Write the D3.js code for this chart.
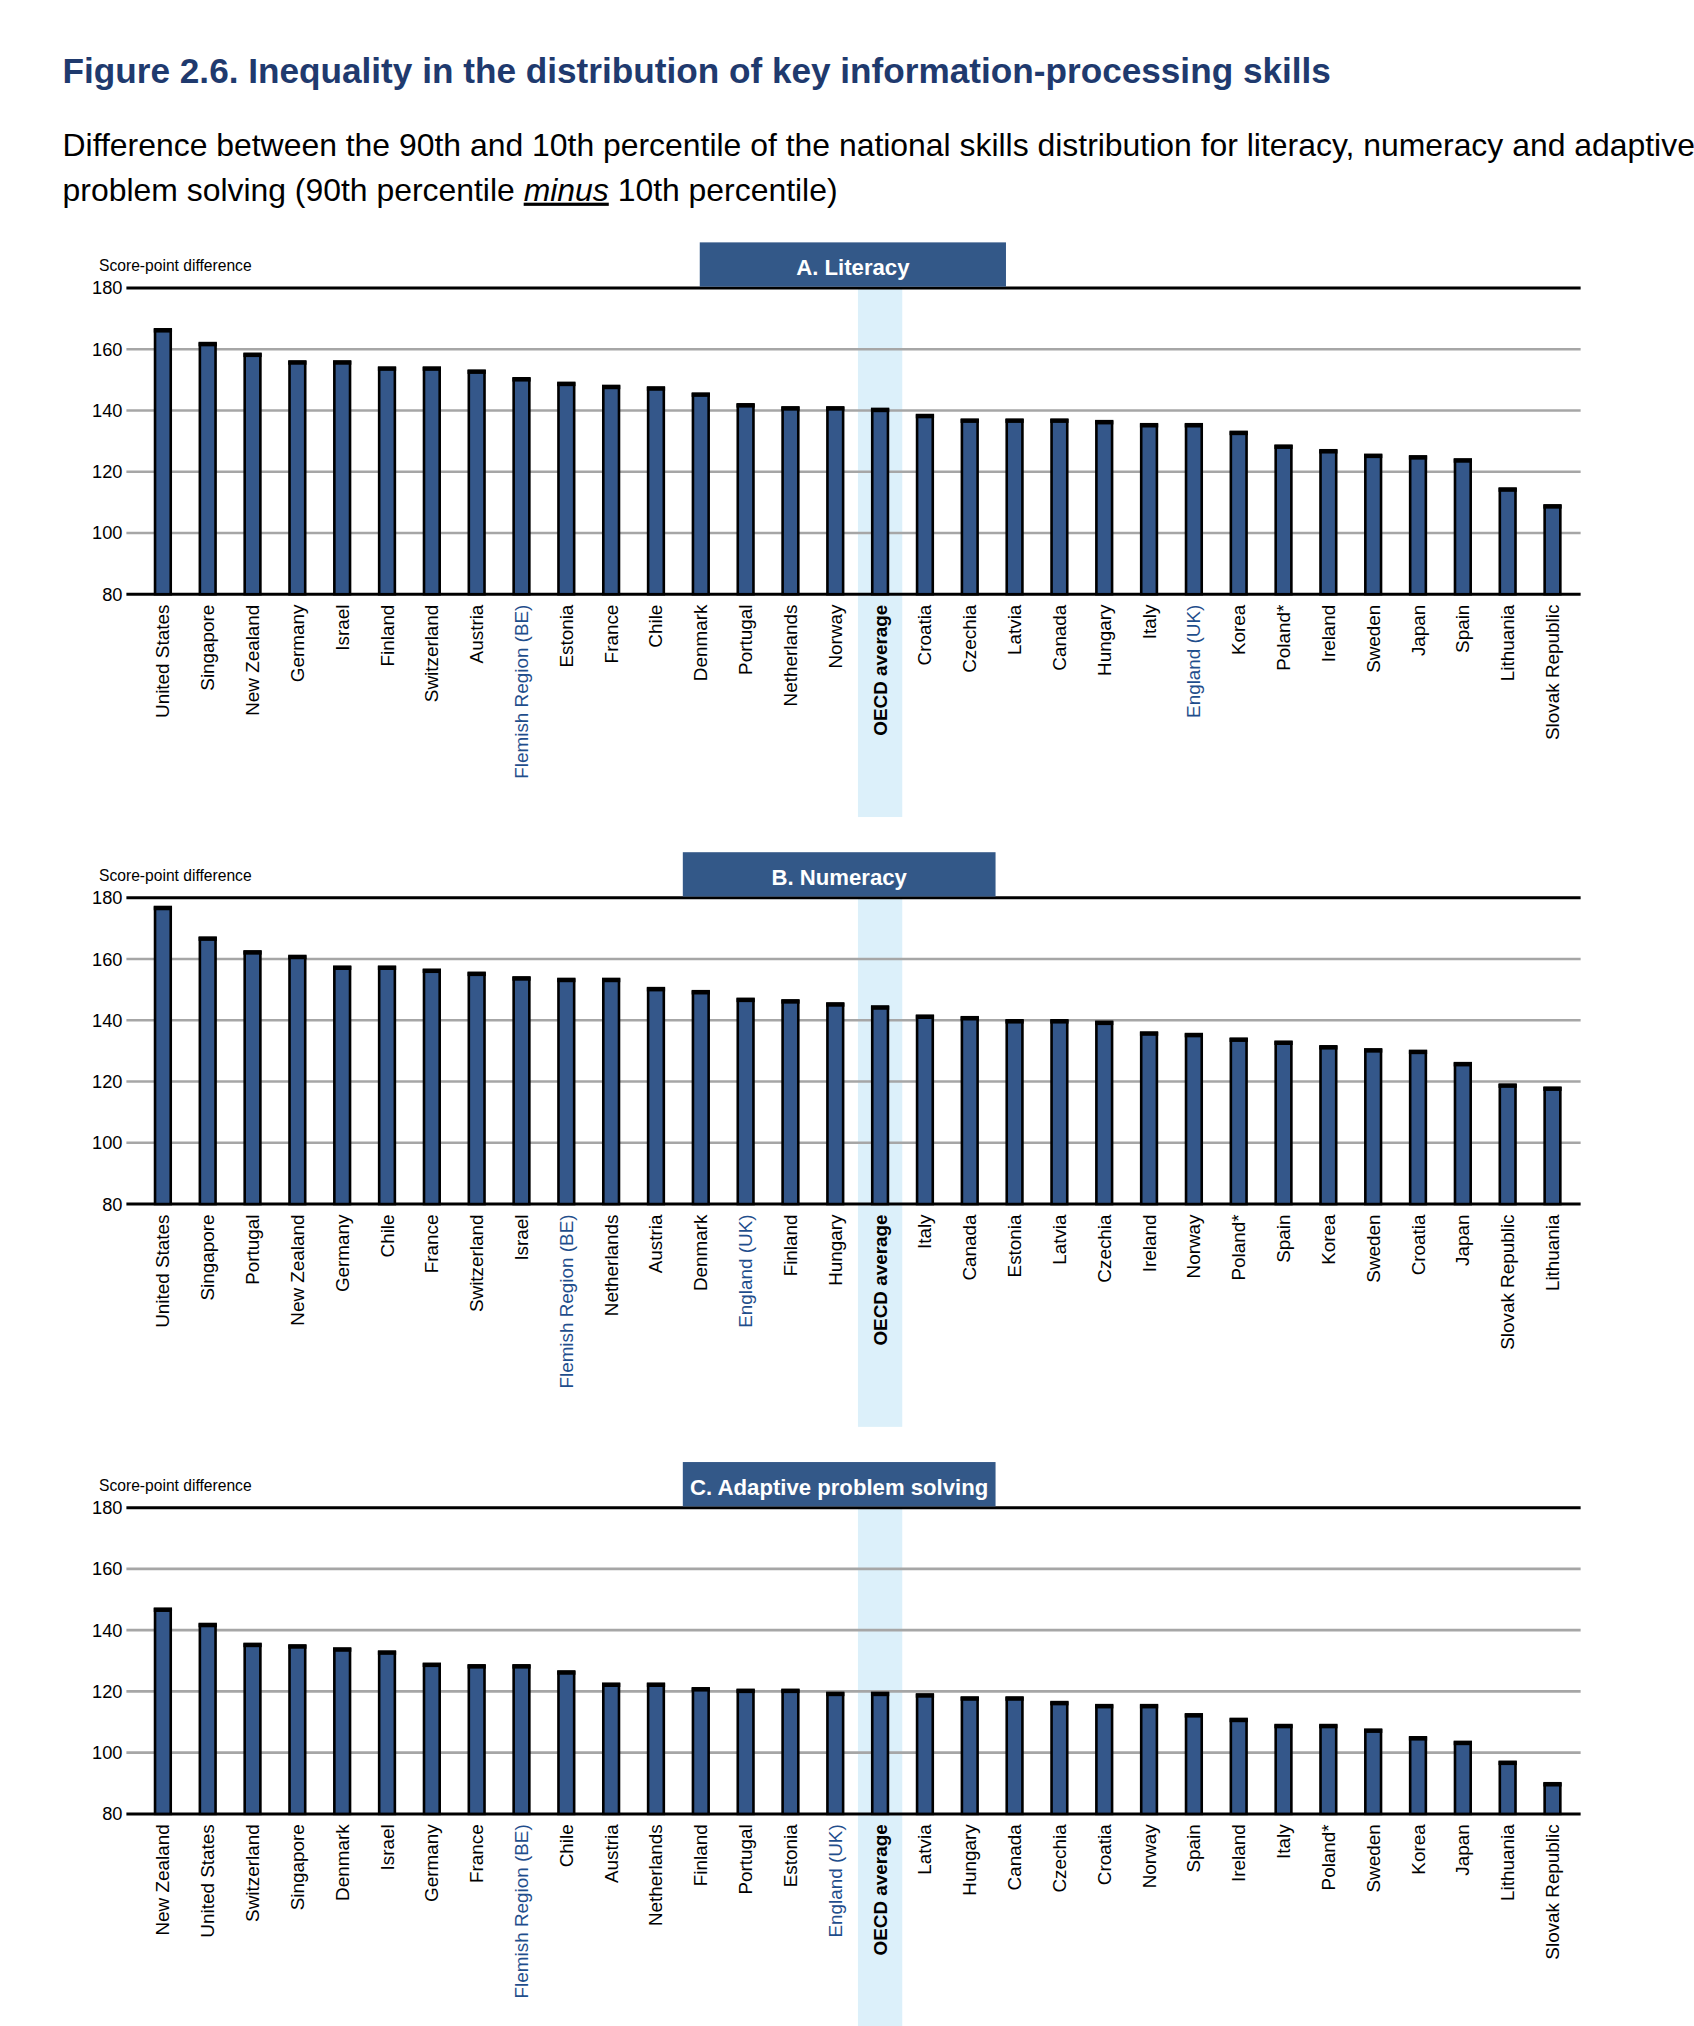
<!DOCTYPE html>
<html><head><meta charset="utf-8">
<script src="https://cdn.jsdelivr.net/npm/d3@7"></script>
<style>body{margin:0;background:#fff}svg{display:block}
text{font-family:"Liberation Sans Narrow","Arial Narrow","Liberation Sans",Arial,sans-serif}</style>
</head><body><svg id="c" width="1694" height="2026"></svg>
<script>
const catsA=["United States","Singapore","New Zealand","Germany","Israel","Finland","Switzerland","Austria","Flemish Region (BE)","Estonia","France","Chile","Denmark","Portugal","Netherlands","Norway","OECD average","Croatia","Czechia","Latvia","Canada","Hungary","Italy","England (UK)","Korea","Poland*","Ireland","Sweden","Japan","Spain","Lithuania","Slovak Republic"];
const valsA=[166.5,162,158.5,156,156,154,154,153,150.5,149,148,147.5,145.5,142,141,141,140.5,138.5,137,137,137,136.5,135.5,135.5,133,128.5,127,125.5,125,124,114.5,109];
const catsB=["United States","Singapore","Portugal","New Zealand","Germany","Chile","France","Switzerland","Israel","Flemish Region (BE)","Netherlands","Austria","Denmark","England (UK)","Finland","Hungary","OECD average","Italy","Canada","Estonia","Latvia","Czechia","Ireland","Norway","Poland*","Spain","Korea","Sweden","Croatia","Japan","Slovak Republic","Lithuania"];
const valsB=[177,167,162.5,161,157.5,157.5,156.5,155.5,154,153.5,153.5,150.5,149.5,147,146.5,145.5,144.5,141.5,141,140,140,139.5,136,135.5,134,133,131.5,130.5,130,126,119,118];
const catsC=["New Zealand","United States","Switzerland","Singapore","Denmark","Israel","Germany","France","Flemish Region (BE)","Chile","Austria","Netherlands","Finland","Portugal","Estonia","England (UK)","OECD average","Latvia","Hungary","Canada","Czechia","Croatia","Norway","Spain","Ireland","Italy","Poland*","Sweden","Korea","Japan","Lithuania","Slovak Republic"];
const valsC=[147,142,135.5,135,134,133,129,128.5,128.5,126.5,122.5,122.5,121,120.5,120.5,119.5,119.5,119,118,118,116.5,115.5,115.5,112.5,111,109,109,107.5,105,103.5,97,90];
const yTicks=[80,100,120,140,160,180];
const panels=[
 {title:"A. Literacy",cats:catsA,vals:valsA,top:221,hx:[537,772],hlEnd:627},
 {title:"B. Numeracy",cats:catsB,vals:valsB,top:689,hx:[524,764],hlEnd:1095},
 {title:"C. Adaptive problem solving",cats:catsC,vals:valsC,top:1157,hx:[524,764],hlEnd:1562}
];
const S=1694/1300;
const svg=d3.select("#c");
const g=svg.append("g").attr("transform",`scale(${S})`);
g.append("text").attr("x",48).attr("y",64).attr("font-size",27).attr("font-weight","bold").attr("fill","#1f3a6e")
 .text("Figure 2.6. Inequality in the distribution of key information-processing skills");
g.append("text").attr("x",48).attr("y",120).attr("font-size",24.5).attr("fill","#000")
 .text("Difference between the 90th and 10th percentile of the national skills distribution for literacy, numeracy and adaptive");
const st=g.append("text").attr("x",48).attr("y",154).attr("font-size",24.5).attr("fill","#000");
st.append("tspan").text("problem solving (90th percentile ");
st.append("tspan").attr("font-style","italic").attr("text-decoration","underline").text("minus");
st.append("tspan").text(" 10th percentile)");
const blue="#1f4e8c";
panels.forEach(p=>{
 const y=d3.scaleLinear().domain([80,180]).range([p.top+235,p.top]);
 const x=d3.scaleBand().domain(p.cats).range([107.8,1208.6]).paddingInner(0.65).paddingOuter(0.325);
 const pg=g.append("g");
 const oi=p.cats.indexOf("OECD average");
 const cx=x(p.cats[oi])+x.bandwidth()/2;
 pg.append("rect").attr("x",cx-17).attr("width",34).attr("y",p.top).attr("height",p.hlEnd-p.top).attr("fill","#dcf0fa");
 yTicks.forEach(t=>{
  pg.append("line").attr("x1",97).attr("x2",1213).attr("y1",y(t)).attr("y2",y(t))
   .attr("stroke",(t==80||t==180)?"#000":"#a6a6a6").attr("stroke-width",(t==80||t==180)?2.3:2);
 });
 const ax=pg.append("g").attr("transform","translate(97,0)").call(d3.axisLeft(y).tickValues(yTicks).tickSize(0).tickPadding(3));
 ax.select(".domain").remove();
 ax.selectAll("text").attr("font-size",14).attr("fill","#000").style("font-family",'"Liberation Sans Narrow","Liberation Sans",sans-serif');
 pg.append("text").attr("x",76).attr("y",p.top-13).attr("font-size",12).text("Score-point difference");
 pg.append("rect").attr("x",p.hx[0]).attr("y",p.top-35).attr("width",p.hx[1]-p.hx[0]).attr("height",34).attr("fill","#335888");
 pg.append("text").attr("x",(p.hx[0]+p.hx[1])/2).attr("y",p.top-10).attr("text-anchor","middle").attr("fill","#fff").attr("font-size",17).attr("font-weight","bold").text(p.title);
 pg.selectAll("rect.bar").data(p.cats).join("rect").attr("class","bar")
  .attr("x",d=>x(d)).attr("width",x.bandwidth()).attr("y",(d,i)=>y(p.vals[i])).attr("height",(d,i)=>y(80)-y(p.vals[i]))
  .attr("fill","#34578a").attr("stroke","#000").attr("stroke-width",2);
 pg.selectAll("line.cap").data(p.cats).join("line").attr("class","cap")
  .attr("x1",d=>x(d)-1).attr("x2",d=>x(d)+x.bandwidth()+1).attr("y1",(d,i)=>y(p.vals[i])+1).attr("y2",(d,i)=>y(p.vals[i])+1)
  .attr("stroke","#000").attr("stroke-width",3);
 pg.selectAll("text.cat").data(p.cats).join("text").attr("class","cat")
  .attr("transform",d=>`translate(${x(d)+x.bandwidth()/2+5},${y(80)+8}) rotate(-90)`)
  .attr("text-anchor","end").attr("font-size",14.5)
  .attr("font-family",'"Liberation Sans",Arial,sans-serif').attr("font-stretch","condensed")
  .attr("font-weight",d=>d=="OECD average"?"bold":"normal")
  .attr("fill",d=>(d.startsWith("Flemish")||d.startsWith("England"))?blue:"#000")
  .text(d=>d);
});
</script></body></html>
